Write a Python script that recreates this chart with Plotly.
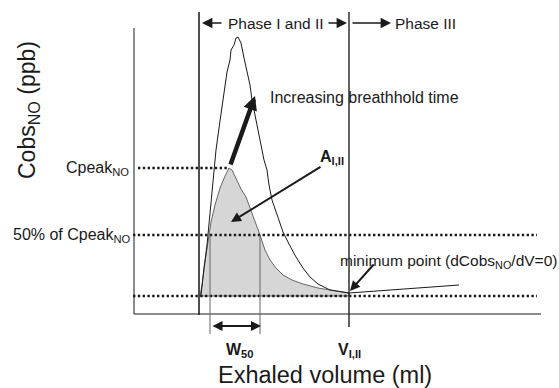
import plotly.graph_objects as go

# ---------------- data (schematic units: volume ml, concentration ppb) -------------
# large peak (long breathhold)
big_v = [67, 68, 70, 73, 76, 79, 82, 85, 88, 91, 93, 96, 97, 100, 102, 104, 107, 110, 112,
         116, 118, 122, 126, 130, 133, 135, 138, 143, 149, 155, 162, 169, 176, 184, 196, 215,
         266, 325]
big_c = [19, 29, 46, 69, 99, 134, 164, 186, 206, 226, 242, 254, 264, 269, 276, 277, 271, 256,
         246, 229, 214, 194, 172, 154, 144, 129, 114, 99, 82, 70, 57, 46, 37, 30, 24, 21, 25, 29]
# small peak (short breathhold), grey area A_I,II
small_v = [66, 68, 71, 74, 77, 81, 86, 91, 95, 98, 102, 107, 112, 117, 122, 126, 131, 136,
           142, 149, 158, 169, 184, 201, 215]
small_c = [18, 29, 52, 71, 92, 109, 126, 138, 146, 144, 135, 125, 117, 104, 90, 79, 64, 54,
           46, 39, 34, 30, 26, 23, 21]

baseline_c = 18
cpeak_c = 146
half_c = 79
phase_start_v = 65
v_12 = 215
w50_left, w50_right = 76, 126
axis_v_max, axis_c_max = 407, 286

FONT = "Liberation Sans, Arial, sans-serif"
INK = "#1a1a1a"

fig = go.Figure()

# grey filled area under small peak
fig.add_trace(go.Scatter(
    x=small_v + [small_v[-1], small_v[0]],
    y=small_c + [baseline_c, baseline_c],
    mode="lines", fill="toself", fillcolor="#d6d6d6",
    line=dict(color="#444", width=0.8), hoverinfo="skip"))

# dotted reference lines
dot = dict(color=INK, width=2.6, dash="2.4px,2.4px")
fig.add_trace(go.Scatter(x=[4, small_v[small_c.index(max(small_c))]], y=[cpeak_c, cpeak_c],
                         mode="lines", line=dot, hoverinfo="skip"))
fig.add_trace(go.Scatter(x=[-1, 403], y=[half_c, half_c], mode="lines", line=dot, hoverinfo="skip"))
fig.add_trace(go.Scatter(x=[-1, 403], y=[baseline_c, baseline_c], mode="lines", line=dot, hoverinfo="skip"))

# big curve outline
fig.add_trace(go.Scatter(x=big_v, y=big_c, mode="lines",
                         line=dict(color=INK, width=1), hoverinfo="skip"))

# axes and vertical lines
shapes = [
    dict(type="line", x0=0, x1=0, y0=0, y1=axis_c_max, line=dict(color=INK, width=1)),
    dict(type="line", x0=0, x1=axis_v_max, y0=0, y1=0, line=dict(color=INK, width=1)),
    dict(type="line", x0=phase_start_v, x1=phase_start_v, y0=-1, y1=302, line=dict(color="#222", width=1.6)),
    dict(type="line", x0=v_12, x1=v_12, y0=-13, y1=302, line=dict(color="#222", width=1.4)),
    dict(type="line", x0=w50_left, x1=w50_left, y0=-20, y1=half_c, line=dict(color="#666", width=1)),
    dict(type="line", x0=w50_right, x1=w50_right, y0=-20, y1=half_c, line=dict(color="#666", width=1)),
]
for s in shapes:
    s.update(xref="x", yref="y")
fig.update_layout(shapes=shapes)

ann = []
def arrow(x, y, ax, ay, w=1.3, head=2, size=1.0, side="end"):
    ann.append(dict(x=x, y=y, ax=ax, ay=ay, xref="x", yref="y", axref="x", ayref="y",
                    text="", showarrow=True, arrowhead=head, arrowwidth=w, arrowsize=size,
                    arrowcolor=INK, arrowside=side, startarrowhead=head, startarrowsize=size))

def text(x, y, t, size=16, xanchor="center", angle=0):
    ann.append(dict(x=x, y=y, xref="x", yref="y", text=t, showarrow=False,
                    font=dict(family=FONT, size=size, color=INK), xanchor=xanchor,
                    yanchor="middle", textangle=angle))

# phase arrows
arrow(68, 291, 89, 291, w=1.3, size=1.6)
arrow(213, 291, 193, 291, w=1.3, size=1.6)
arrow(257, 291, 217, 291, w=1.3, size=1.6)
text(142, 291, "Phase I and II", 15.5)
text(291, 291, "Phase III", 15.5)

# thick arrow: increasing breathhold time
arrow(121, 218, 96, 148, w=4.5, size=0.62)
text(134, 217, "Increasing breathhold time", 16, xanchor="left")

# A_I,II
arrow(97, 92, 188, 148, w=2, size=1.0)
text(198, 157, "<b>A</b><sub><b>I,II</b></sub>", 16)

# minimum point
arrow(216, 23, 241, 51, w=2, size=1.0)
text(204, 53, "minimum point (dCobs<sub>NO</sub>/dV=0)", 15.5, xanchor="left")

# W50 double arrow
arrow(w50_right + 1, -12, w50_left + 1, -12, w=2, size=1.0, side="end+start")
text(106, -36, "<b>W</b><sub><b>50</b></sub>", 16)
text(v_12, -36, "<b>V</b><sub><b>I,II</b></sub>", 16)

# left labels
text(-3, cpeak_c, "Cpeak<sub>NO</sub>", 16, xanchor="right")
text(-1, half_c, "50% of Cpeak<sub>NO</sub>", 16, xanchor="right")

# axis titles
text(191, -61, "Exhaled volume (ml)", 23.5)
text(-106, 204, "Cobs<sub>NO</sub> (ppb)", 23, angle=-90)

fig.update_layout(
    annotations=ann,
    width=559, height=388,
    margin=dict(l=0, r=0, t=0, b=0),
    paper_bgcolor="white", plot_bgcolor="white",
    showlegend=False,
    xaxis=dict(range=[-134, 425], visible=False, fixedrange=True),
    yaxis=dict(range=[-74, 314], visible=False, fixedrange=True),
)

fig.write_html("out.html")
